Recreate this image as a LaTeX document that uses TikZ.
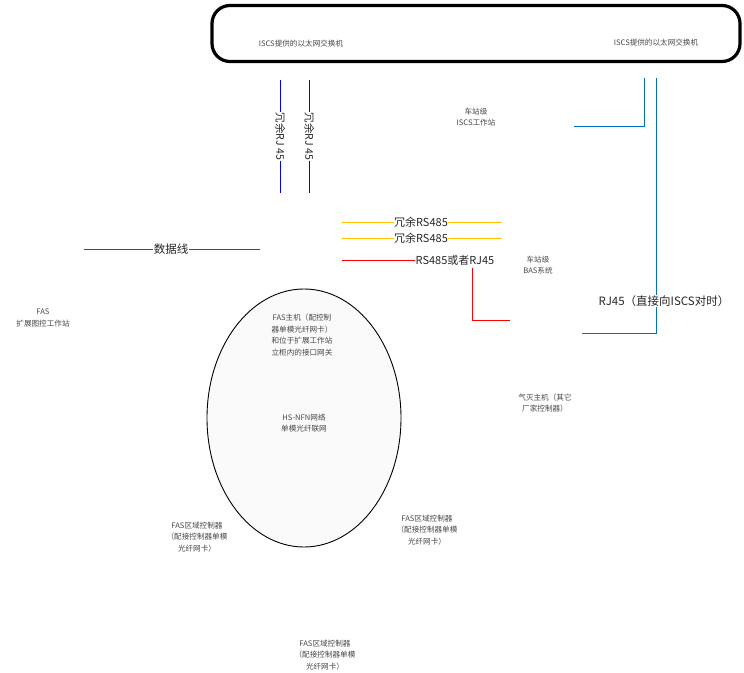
\documentclass[tikz,border=0pt]{standalone}
\usepackage{fontspec}
\setmainfont{Noto Sans CJK SC}
\usetikzlibrary{shapes.geometric}
\definecolor{linkblue}{HTML}{0070C0}
\definecolor{rsyellow}{HTML}{FFC000}
\definecolor{wirered}{HTML}{FF0000}
\definecolor{wireblue}{HTML}{0000FF}
\begin{document}
\begin{tikzpicture}[x=1pt,y=-1pt,
  small/.style={font=\fontsize{7.6}{11.5}\selectfont, text=black!72, align=center, inner sep=0pt},
  lbl/.style={font=\fontsize{11}{13}\selectfont, inner sep=0.4pt, text=black!85},
  rotlbl/.style={lbl, rotate=-90, font=\fontsize{10.5}{12}\selectfont},
  bluewire/.style={color=wireblue, line width=1.1pt},
  rjwire/.style={color=linkblue, line width=1.1pt},
  yelwire/.style={color=rsyellow, line width=1.1pt},
  redwire/.style={color=wirered, line width=1.1pt}]
\useasboundingbox (0,0) rectangle (744,672);
% switch
\node[draw, line width=3.2pt, rounded corners=18pt, minimum width=528pt, minimum height=56pt, inner sep=0pt] (sw) at (476,33.5) {};
\node[small] (swl) at (301,44) {ISCS提供的以太网交换机};
\node[small] (swr) at (656,43) {ISCS提供的以太网交换机};
% labels first
\node[rotlbl] (rj1) at (280.5,136.5) {冗余RJ 45};
\node[rotlbl] (rj2) at (309.5,136.5) {冗余RJ 45};
\node[lbl] (rs1) at (421,222.5) {冗余RS485};
\node[lbl] (rs2) at (421,238.5) {冗余RS485};
\node[lbl] (rsrj) at (455,260.5) {RS485或者RJ45};
\node[lbl, font=\fontsize{11.5}{13}\selectfont] (dl) at (171,249.5) {数据线};
\node[lbl, font=\fontsize{11.5}{13}\selectfont] (rjtime) at (664,301) {RJ45（直接向ISCS对时）};
% redundant RJ45 blue
\coordinate (b1t) at (280.5,80); \coordinate (b1b) at (280.5,193);
\coordinate (b2t) at (309.5,80); \coordinate (b2b) at (309.5,193);
\draw[bluewire] (b1t) -- (rj1.west);
\draw[bluewire] (rj1.east) -- (b1b);
\draw[bluewire] (b2t) -- (rj2.west);
\draw[bluewire] (rj2.east) -- (b2b);
% yellow RS485
\coordinate (y1a) at (342,222.5); \coordinate (y1b) at (502,222.5);
\coordinate (y2a) at (342,238.5); \coordinate (y2b) at (502,238.5);
\draw[yelwire] (y1a) -- (rs1.west);
\draw[yelwire] (rs1.east) -- (y1b);
\draw[yelwire] (y2a) -- (rs2.west);
\draw[yelwire] (rs2.east) -- (y2b);
% red RS485 or RJ45
\coordinate (r1a) at (342,260.5);
\draw[redwire] (r1a) -- (rsrj.west);
\coordinate (r2a) at (472.5,268); \coordinate (r2b) at (472.5,320.5); \coordinate (r2c) at (510,320.5);
\draw[redwire] (r2a) -- (r2b) -- (r2c);
% data line
\coordinate (d1) at (84,249.5); \coordinate (d2) at (260,249.5);
\draw[redwire] (d1) -- (dl.west);
\draw[redwire] (dl.east) -- (d2);
% station ISCS workstation
\node[small] (iscsws) at (476,117) {车站级\\ISCS工作站};
\coordinate (c1a) at (644.5,78); \coordinate (c1b) at (644.5,126.5); \coordinate (c1c) at (574,126.5);
\draw[rjwire] (c1a) -- (c1b) -- (c1c);
\coordinate (c2a) at (656.5,78); \coordinate (c2b) at (656.5,333.5); \coordinate (c2c) at (582,333.5);
\draw[rjwire] (c2a) -- (rjtime.north -| c2a);
\draw[rjwire] (rjtime.south -| c2a) -- (c2b) -- (c2c);
% BAS
\node[small] (bas) at (538,265) {车站级\\BAS系统};
% FAS workstation
\node[small] (fasws) at (43,318) {FAS\\扩展图控工作站};
% network ellipse
\node[ellipse, draw, line width=0.9pt, fill=black!2, minimum width=194pt, minimum height=258pt, inner sep=0pt] (net) at (304,418) {};
\node[small] (host) at (302,335) {FAS主机（配控制\\器单模光纤网卡）\\和位于扩展工作站\\立柜内的接口网关};
\node[small] (hsnfn) at (304,423) {HS-NFN网络\\单模光纤联网};
% gas extinguishing
\node[small] (gas) at (545,403) {气灭主机（其它\\厂家控制器）};
% zone controllers
\node[small] (zc1) at (197,537) {FAS区域控制器\\（配接控制器单模\\光纤网卡）};
\node[small] (zc2) at (427,530) {FAS区域控制器\\（配接控制器单模\\光纤网卡）};
\node[small] (zc3) at (325,655) {FAS区域控制器\\（配接控制器单模\\光纤网卡）};
\end{tikzpicture}
\end{document}
